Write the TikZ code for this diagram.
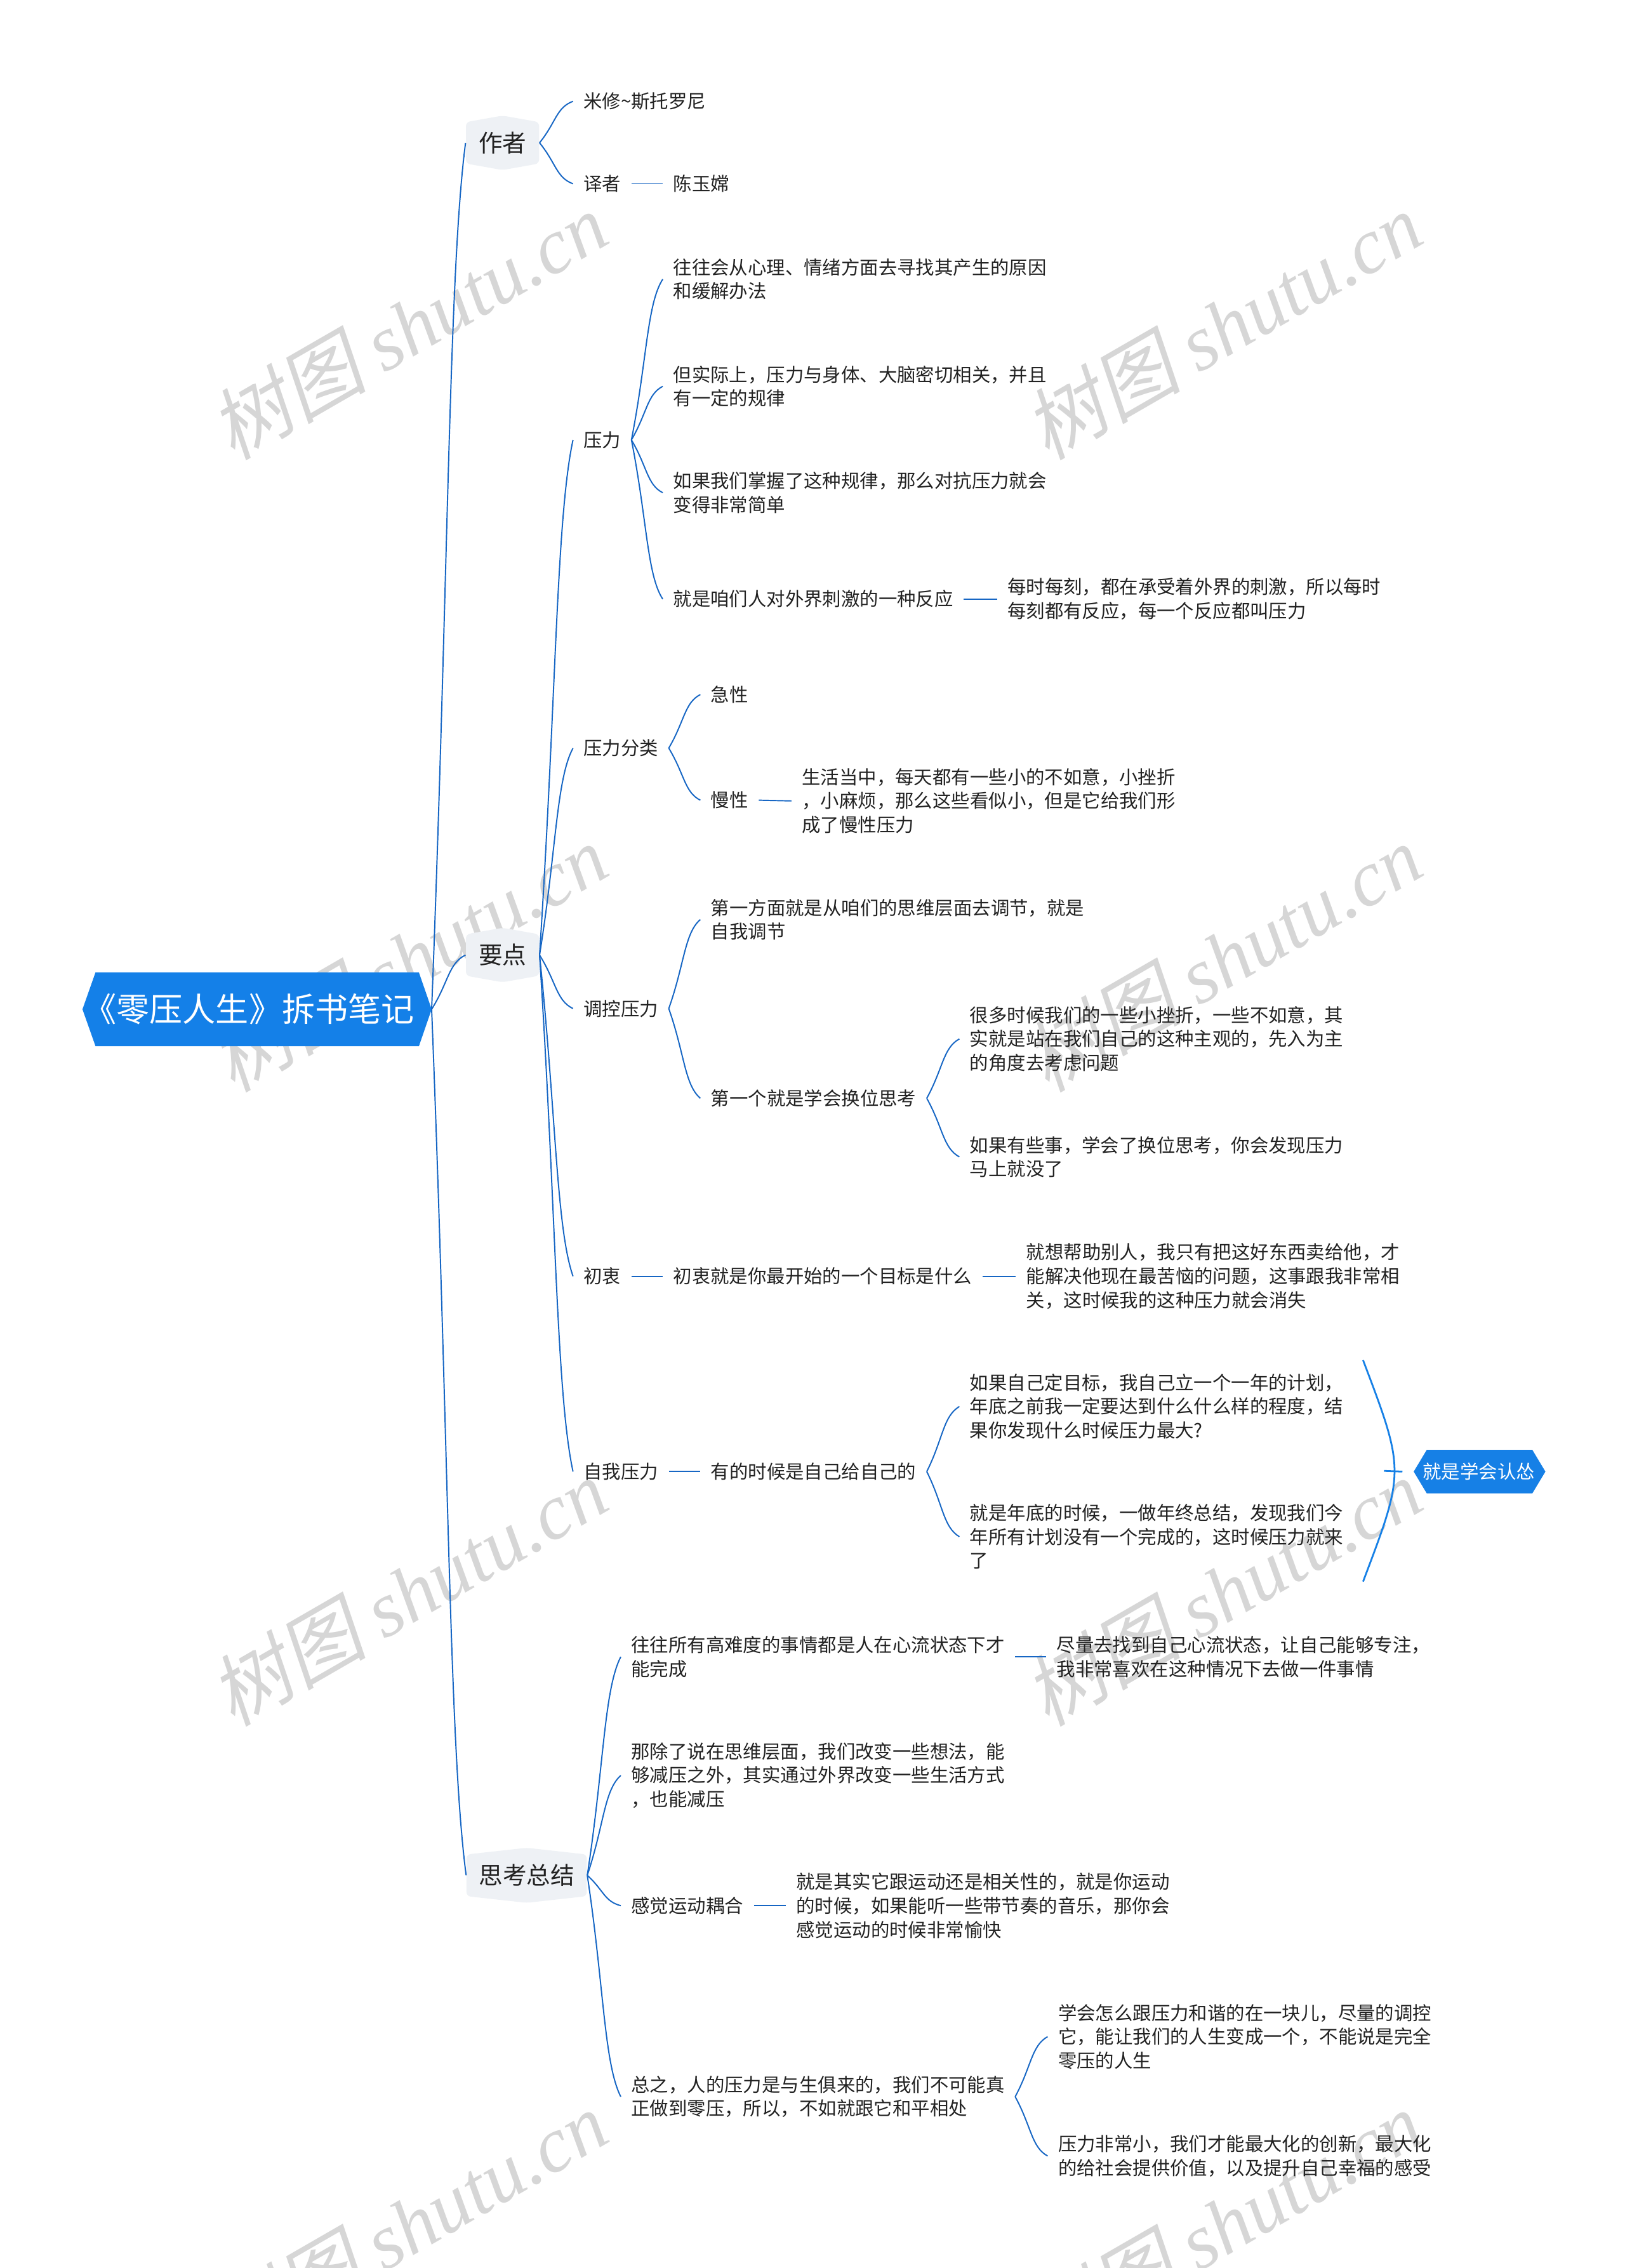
\documentclass[tikz,border=0pt]{standalone}
\usepackage{fontspec}
\setmainfont{Noto Sans CJK SC}
\newfontfamily\wmlatin{Liberation Serif}
\newfontfamily\wmcjk[FakeSlant=0.2]{Noto Sans CJK SC}
\usetikzlibrary{calc}
\definecolor{linec}{RGB}{22,102,196}
\definecolor{brc}{RGB}{22,128,230}
\definecolor{rootc}{RGB}{20,128,232}
\definecolor{boxc}{RGB}{238,241,245}
\definecolor{txtc}{RGB}{34,34,34}
\definecolor{wmc}{RGB}{214,214,214}
\begin{document}
\begin{tikzpicture}[x=0.7pt,y=-0.7pt,
  t/.style={font=\fontsize{9.03pt}{11.55pt}\selectfont, text=txtc, align=left, anchor=west, inner xsep=4.9pt, inner ysep=1pt},
  lone/.style={font=\fontsize{11.55pt}{14pt}\selectfont, text=txtc, inner sep=0pt, minimum height=20pt, minimum width=35.4pt},
  con/.style={draw=linec, line width=0.6pt},
  curv/.style={to path={let \p1=(\tikztostart), \p2=(\tikztotarget), \n1={\x2-\x1}, \n2={\y2-\y1} in .. controls ({\x1+0.5*\n1},{\y1+0.5*\n2}) and ({\x2-0.5*\n1},{\y2-0.15*\n2}) .. (\p2)}},
  wm/.style={font=\fontsize{38pt}{40pt}\selectfont, text=wmc, rotate=30, inner sep=0pt},
  boxfill/.style={fill=boxc, rounded corners=2pt},
]
\fill[white] (0,0) rectangle (1123,1567.4);
\useasboundingbox (0,0) rectangle (1123,1567.4);

% watermarks
\begin{scope}
\clip (0,0) rectangle (1123,1567.4);
\node[wm] (wm1) at (282,225) {\wmcjk 树图 \wmlatin\itshape shutu.cn};
\node[wm] (wm2) at (845,225) {\wmcjk 树图 \wmlatin\itshape shutu.cn};
\node[wm] (wm3) at (282,662) {\wmcjk 树图 \wmlatin\itshape shutu.cn};
\node[wm] (wm4) at (845,662) {\wmcjk 树图 \wmlatin\itshape shutu.cn};
\node[wm] (wm5) at (282,1100) {\wmcjk 树图 \wmlatin\itshape shutu.cn};
\node[wm] (wm6) at (845,1100) {\wmcjk 树图 \wmlatin\itshape shutu.cn};
\node[wm] (wm7) at (282,1537) {\wmcjk 树图 \wmlatin\itshape shutu.cn};
\node[wm] (wm8) at (845,1537) {\wmcjk 树图 \wmlatin\itshape shutu.cn};
\end{scope}

% root
\fill[rootc] (57,697.5) -- (66,672) -- (289.5,672) -- (298.3,697.5) -- (289.5,723) -- (66,723) -- cycle;
\node[font=\fontsize{16pt}{18pt}\selectfont, text=white, inner sep=0pt] (root) at (172,697.5) {《零压人生》拆书笔记};
\coordinate (rootR) at (298.3,697.5);

% level 1 boxes
\fill[boxfill] (322,84.4) -- (347.3,79.9) -- (372.6,84.4) -- (372.6,113) -- (347.3,117.5) -- (322,113) -- cycle;
\node[lone] (zuozhe) at (347.3,98.7) {作者};
\fill[boxfill] (322,645.7) -- (347.3,641.2) -- (372.6,645.7) -- (372.6,674.3) -- (347.3,678.8) -- (322,674.3) -- cycle;
\node[lone] (yaodian) at (347.3,660) {要点};
\fill[boxfill] (322.4,1281.6) -- (364,1277) -- (405.5,1281.6) -- (405.5,1310.4) -- (364,1315) -- (322.4,1310.4) -- cycle;
\node[lone, minimum width=58.2pt] (sikao) at (364,1296) {思考总结};

% 作者
\node[t] (mx) at (396,70) {米修\textasciitilde 斯托罗尼};
\node[t] (yz) at (396,127) {译者};
\node[t] (cyc) at (458,127) {陈玉嫦};

% 要点
\node[t] (yl) at (396,304) {压力};
\node[t] (yl1) at (458,193) {往往会从心理、情绪方面去寻找其产生的原因\\和缓解办法};
\node[t] (yl2) at (458,267) {但实际上，压力与身体、大脑密切相关，并且\\有一定的规律};
\node[t] (yl3) at (458,340.5) {如果我们掌握了这种规律，那么对抗压力就会\\变得非常简单};
\node[t] (yl4) at (458,414) {就是咱们人对外界刺激的一种反应};
\node[t] (yl4a) at (689,414) {每时每刻，都在承受着外界的刺激，所以每时\\每刻都有反应，每一个反应都叫压力};

\node[t] (fl) at (396,517) {压力分类};
\node[t] (jx) at (484,480) {急性};
\node[t] (mxg) at (484,553) {慢性};
\node[t] (mxa) at (547,553.5) {生活当中，每天都有一些小的不如意，小挫折\\，小麻烦，那么这些看似小，但是它给我们形\\成了慢性压力};

\node[t] (tk) at (396,697) {调控压力};
\node[t] (tk1) at (484,635.5) {第一方面就是从咱们的思维层面去调节，就是\\自我调节};
\node[t] (tk2) at (484,759) {第一个就是学会换位思考};
\node[t] (tk2a) at (663,718) {很多时候我们的一些小挫折，一些不如意，其\\实就是站在我们自己的这种主观的，先入为主\\的角度去考虑问题};
\node[t] (tk2b) at (663,799.5) {如果有些事，学会了换位思考，你会发现压力\\马上就没了};

\node[t] (cz) at (396,882) {初衷};
\node[t] (cz1) at (458,882) {初衷就是你最开始的一个目标是什么};
\node[t] (cz2) at (702,882) {就想帮助别人，我只有把这好东西卖给他，才\\能解决他现在最苦恼的问题，这事跟我非常相\\关，这时候我的这种压力就会消失};

\node[t] (zw) at (396,1017) {自我压力};
\node[t] (zw1) at (484,1017) {有的时候是自己给自己的};
\node[t] (zw1a) at (663,972) {如果自己定目标，我自己立一个一年的计划，\\年底之前我一定要达到什么什么样的程度，结\\果你发现什么时候压力最大?};
\node[t] (zw1b) at (663,1062) {就是年底的时候，一做年终总结，发现我们今\\年所有计划没有一个完成的，这时候压力就来\\了};

% summary bracket and node
\fill[brc] (977,1017) -- (986,1002) -- (1059,1002) -- (1068,1017) -- (1059,1032) -- (986,1032) -- cycle;
\node[font=\fontsize{9.03pt}{11pt}\selectfont, text=white, inner xsep=9.7pt, inner ysep=1pt] (rz) at (1022,1017) {就是学会认怂};
\coordinate (br1) at (942,940);
\coordinate (br2) at (942,1093);
\coordinate (brt) at (956.5,1016.5);
\draw[brc, line width=0.85pt] (br1) .. controls (971,1016.5) .. (br2);
\draw[brc, line width=0.85pt] (brt) -- (rz.west);

% 思考总结
\node[t] (sk1) at (429,1145) {往往所有高难度的事情都是人在心流状态下才\\能完成};
\node[t] (sk1a) at (723,1145) {尽量去找到自己心流状态，让自己能够专注，\\我非常喜欢在这种情况下去做一件事情};
\node[t] (sk2) at (429,1227) {那除了说在思维层面，我们改变一些想法，能\\够减压之外，其实通过外界改变一些生活方式\\，也能减压};
\node[t] (sk3) at (429,1317) {感觉运动耦合};
\node[t] (sk3a) at (543,1317) {就是其实它跟运动还是相关性的，就是你运动\\的时候，如果能听一些带节奏的音乐，那你会\\感觉运动的时候非常愉快};
\node[t] (sk4) at (429,1449) {总之，人的压力是与生俱来的，我们不可能真\\正做到零压，所以，不如就跟它和平相处};
\node[t] (sk4a) at (724,1407.5) {学会怎么跟压力和谐的在一块儿，尽量的调控\\它，能让我们的人生变成一个，不能说是完全\\零压的人生};
\node[t] (sk4b) at (724,1490) {压力非常小，我们才能最大化的创新，最大化\\的给社会提供价值，以及提升自己幸福的感受};

% connectors
\draw[con] (rootR) to[curv] (zuozhe.west);
\draw[con] (rootR) to[curv] (yaodian.west);
\draw[con] (rootR) to[curv] (sikao.west);

\draw[con] (zuozhe.east) to[curv] (mx.west);
\draw[con] (zuozhe.east) to[curv] (yz.west);
\draw[con] (yz.east) -- (cyc.west);

\draw[con] (yaodian.east) to[curv] (yl.west);
\draw[con] (yaodian.east) to[curv] (fl.west);
\draw[con] (yaodian.east) to[curv] (tk.west);
\draw[con] (yaodian.east) to[curv] (cz.west);
\draw[con] (yaodian.east) to[curv] (zw.west);

\draw[con] (yl.east) to[curv] (yl1.west);
\draw[con] (yl.east) to[curv] (yl2.west);
\draw[con] (yl.east) to[curv] (yl3.west);
\draw[con] (yl.east) to[curv] (yl4.west);
\draw[con] (yl4.east) -- (yl4a.west);

\draw[con] (fl.east) to[curv] (jx.west);
\draw[con] (fl.east) to[curv] (mxg.west);
\draw[con] (mxg.east) -- (mxa.west);

\draw[con] (tk.east) to[curv] (tk1.west);
\draw[con] (tk.east) to[curv] (tk2.west);
\draw[con] (tk2.east) to[curv] (tk2a.west);
\draw[con] (tk2.east) to[curv] (tk2b.west);

\draw[con] (cz.east) -- (cz1.west);
\draw[con] (cz1.east) -- (cz2.west);

\draw[con] (zw.east) -- (zw1.west);
\draw[con] (zw1.east) to[curv] (zw1a.west);
\draw[con] (zw1.east) to[curv] (zw1b.west);

\draw[con] (sikao.east) to[curv] (sk1.west);
\draw[con] (sk1.east) -- (sk1a.west);
\draw[con] (sikao.east) to[curv] (sk2.west);
\draw[con] (sikao.east) to[curv] (sk3.west);
\draw[con] (sk3.east) -- (sk3a.west);
\draw[con] (sikao.east) to[curv] (sk4.west);
\draw[con] (sk4.east) to[curv] (sk4a.west);
\draw[con] (sk4.east) to[curv] (sk4b.west);
\end{tikzpicture}
\end{document}
